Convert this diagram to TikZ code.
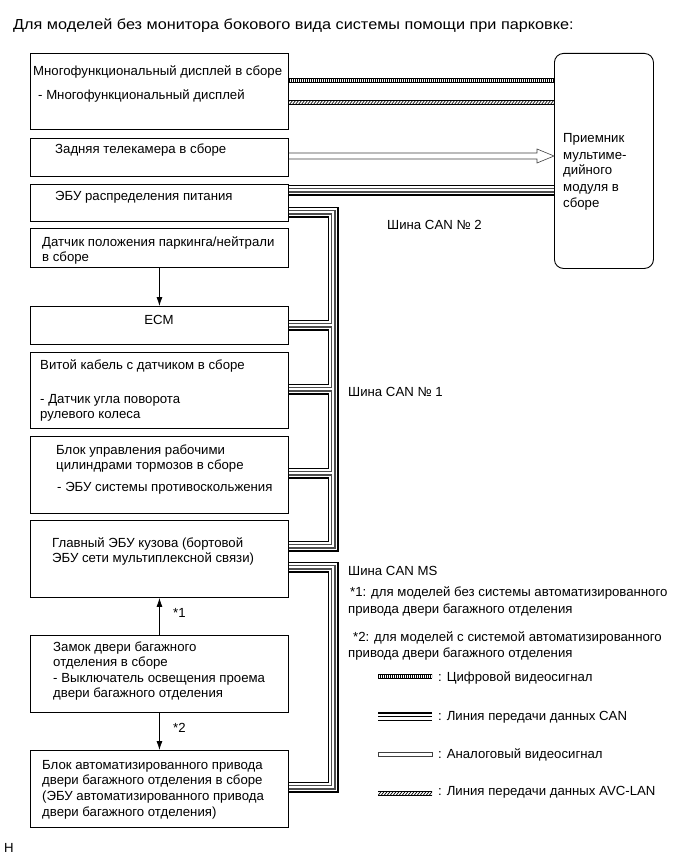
\documentclass[tikz,border=0pt]{standalone}
\usepackage{fontspec}
\setmainfont{Liberation Sans}
\newfontfamily\titlefont{Liberation Sans}[FakeStretch=1.12]
\usetikzlibrary{arrows.meta}
\begin{document}
\begin{tikzpicture}[x=1pt,y=-1pt,
  box/.style={draw, line width=0.9pt, inner sep=0pt, anchor=north west},
  txt/.style={anchor=base west, inner sep=0pt, font=\fontsize{13.2}{15}\selectfont},
  canA/.style={line width=11pt, black, line join=miter},
  canB/.style={line width=8.4pt, white, line join=miter},
  canC/.style={line width=5pt, black!70, line join=miter},
  canD/.style={line width=2.8pt, white, line join=miter},
  arr/.style={line width=0.8pt, -{Latex[length=9pt,width=6pt]}},
  thinline/.style={line width=0.5pt},
]
\useasboundingbox (0,0) rectangle (686,856);
\fill[white] (0,0) rectangle (686,856);

% title
\node[anchor=base west, inner sep=0pt, font=\titlefont\fontsize{14.5}{16}\selectfont] (title) at (13,30) {Для моделей без монитора бокового вида системы помощи при парковке:};

% boxes
\node[box, minimum width=258pt, minimum height=76pt] (b1) at (30,53) {};
\node[box, minimum width=258pt, minimum height=38pt] (b2) at (30,138) {};
\node[box, minimum width=258pt, minimum height=37pt] (b3) at (30,184) {};
\node[box, minimum width=258pt, minimum height=39pt] (b4) at (30,228) {};
\node[box, minimum width=258pt, minimum height=38pt] (b5) at (30,306) {};
\node[box, minimum width=258pt, minimum height=76pt] (b6) at (30,352) {};
\node[box, minimum width=258pt, minimum height=77pt] (b7) at (30,436) {};
\node[box, minimum width=258pt, minimum height=77pt] (b8) at (30,520) {};
\node[box, minimum width=258pt, minimum height=77pt] (b9) at (30,635) {};
\node[box, minimum width=258pt, minimum height=77pt] (b10) at (30,750) {};
\node[box, rounded corners=9pt, minimum width=99pt, minimum height=215pt] (rx) at (554,53) {};

% CAN cables
\def\canpaths{(b3.east|-0,190) -- (rx.west|-0,190)
  (b3.east|-0,212) -- (333,212) -- (333,546) -- (b8.east|-0,546)
  (b5.east|-0,325) -- (333,325)
  (b6.east|-0,389) -- (333,389)
  (b7.east|-0,473) -- (333,473)
  (b8.east|-0,567) -- (333,567) -- (333,787) -- (b10.east|-0,787)}
\foreach \s in {canA,canB,canC,canD} \draw[\s] \canpaths;

% digital video
\draw[line width=4.4pt, dash pattern=on 0.7pt off 1.3pt] (b1.east|-0,80.5) -- (rx.west|-0,80.5);
\draw[thinline] (b1.east|-0,78.3) -- (rx.west|-0,78.3) (b1.east|-0,82.7) -- (rx.west|-0,82.7);
% AVC-LAN
\begin{scope}
\clip (288,100.5) rectangle (554,104.5);
\foreach \i in {286,289,...,556} \draw[line width=0.7pt] (\i,105) -- (\i+4,100);
\end{scope}
\draw[line width=0.3pt] (b1.east|-0,100.5) -- (rx.west|-0,100.5) (b1.east|-0,104.5) -- (rx.west|-0,104.5);
% analog video
\draw[line width=0.6pt, black!75] (b2.east|-0,153) -- (537,153) -- (537,149) -- (rx.west|-0,156) -- (537,163) -- (537,159) -- (b2.east|-0,159);

% arrows
\draw[arr] (b4.south) -- (b5.north);
\draw[arr] (b9.north) -- (b8.south);
\draw[arr] (b9.south) -- (b10.north);
\node[txt] (s1) at (173,617) {*1};
\node[txt] (s2) at (173,732) {*2};

% box texts
\node[txt] (t1a) at (33,75.7) {Многофункциональный дисплей в сборе};
\node[txt] (t1b) at (38,99.7) {- Многофункциональный дисплей};
\node[txt] (t2) at (55,153.7) {Задняя телекамера в сборе};
\node[txt] (t3) at (55,200.7) {ЭБУ распределения питания};
\node[txt] (t4a) at (42,246.7) {Датчик положения паркинга/нейтрали};
\node[txt] (t4b) at (42,261.7) {в сборе};
\node[anchor=base, inner sep=0pt, font=\fontsize{13.2}{15}\selectfont] (t5) at (159,324.7) {ECM};
\node[txt] (t6a) at (40,369.7) {Витой кабель с датчиком в сборе};
\node[txt] (t6b) at (40,403.7) {- Датчик угла поворота};
\node[txt] (t6c) at (40,418.7) {рулевого колеса};
\node[txt] (t7a) at (56,454.7) {Блок управления рабочими};
\node[txt] (t7b) at (56,469.7) {цилиндрами тормозов в сборе};
\node[txt] (t7c) at (57,491.7) {- ЭБУ системы противоскольжения};
\node[txt] (t8a) at (52,547.7) {Главный ЭБУ кузова (бортовой};
\node[txt] (t8b) at (52,562.7) {ЭБУ сети мультиплексной связи)};
\node[txt] (t9a) at (53,651.7) {Замок двери багажного};
\node[txt] (t9b) at (53,666.7) {отделения в сборе};
\node[txt] (t9c) at (53,682.7) {- Выключатель освещения проема};
\node[txt] (t9d) at (53,697.7) {двери багажного отделения};
\node[txt] (t10a) at (42,769.7) {Блок автоматизированного привода};
\node[txt] (t10b) at (42,784.7) {двери багажного отделения в сборе};
\node[txt] (t10c) at (42,800.7) {(ЭБУ автоматизированного привода};
\node[txt] (t10d) at (42,816.7) {двери багажного отделения)};
\node[txt] (r1) at (563,142.7) {Приемник};
\node[txt] (r2) at (563,159.7) {мультиме-};
\node[txt] (r3) at (563,174.7) {дийного};
\node[txt] (r4) at (563,191.7) {модуля в};
\node[txt] (r5) at (563,207.7) {сборе};

% bus labels and notes
\node[txt] (l2) at (387,229.7) {Шина CAN № 2};
\node[txt] (l1) at (348,396.7) {Шина CAN № 1};
\node[txt] (lms) at (348,575.7) {Шина CAN MS};
\node[txt] (n1a) at (350,596.7) {*1: для моделей без системы автоматизированного};
\node[txt] (n1b) at (348,613.7) {привода двери багажного отделения};
\node[txt] (n2a) at (353,641.7) {*2: для моделей с системой автоматизированного};
\node[txt] (n2b) at (348,657.7) {привода двери багажного отделения};

% legend
\draw[line width=3.2pt, dash pattern=on 0.7pt off 1.3pt] (378,676) -- (432,676);
\draw[thinline] (378,674.2) -- (432,674.2) (378,677.8) -- (432,677.8);
\node[txt] (g1) at (438,681.7) {: Цифровой видеосигнал};
\draw[line width=2pt] (378,712.5) -- (432,712.5);
\draw[line width=1.2pt] (378,716.5) -- (432,716.5);
\draw[line width=1.5pt] (378,720.5) -- (432,720.5);
\node[txt] (g2) at (438,720.7) {: Линия передачи данных CAN};
\draw[line width=0.6pt, black!75] (378,752) rectangle (432,756.5);
\node[txt] (g3) at (438,758.7) {: Аналоговый видеосигнал};
\begin{scope}
\clip (378,791) rectangle (432,795);
\foreach \i in {375,378,...,434} \draw[line width=0.7pt] (\i,795.5) -- (\i+4,790.5);
\end{scope}
\draw[line width=0.3pt] (378,791) -- (432,791) (378,795) -- (432,795);
\node[txt] (g4) at (438,795.7) {: Линия передачи данных AVC-LAN};

\node[txt] (hh) at (4,852) {H};
\end{tikzpicture}
\end{document}
